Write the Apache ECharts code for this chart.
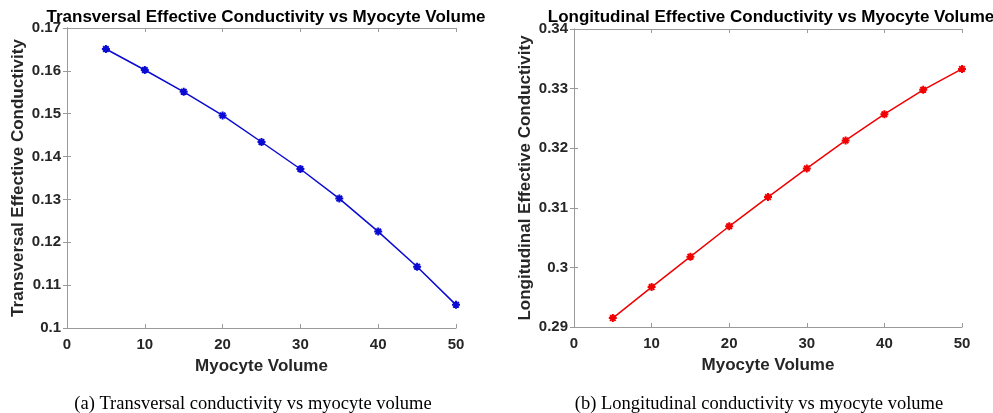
<!DOCTYPE html>
<html>
<head>
<meta charset="utf-8">
<script src="https://cdn.jsdelivr.net/npm/echarts@6/dist/echarts.min.js"></script>
<style>html,body{margin:0;padding:0;background:#fff;}#c{width:993px;height:413px;}</style>
</head>
<body>
<div id="c"></div>
<script>
const volume = [5, 10, 15, 20, 25, 30, 35, 40, 45, 50];
const transversal = [0.1651, 0.1602, 0.1551, 0.1496, 0.1434, 0.1371, 0.1302, 0.1225, 0.1143, 0.1054];
const longitudinal = [0.2915, 0.2967, 0.3018, 0.3069, 0.3118, 0.3166, 0.3213, 0.3257, 0.3298, 0.3333];
const titles = ['Transversal Effective Conductivity vs Myocyte Volume', 'Longitudinal Effective Conductivity vs Myocyte Volume'];
const yNames = ['Transversal Effective Conductivity', 'Longitudinal Effective Conductivity'];
const xName = 'Myocyte Volume';
const captions = ['(a) Transversal conductivity vs myocyte volume', '(b) Longitudinal conductivity vs myocyte volume'];

const chart = echarts.init(document.getElementById('c'));
const sans = 'Liberation Sans, Arial, Helvetica, sans-serif';
const serif = 'Liberation Serif, Times New Roman, serif';
const frame = '#9a9a9a';
const txt = '#262626';
const star = 'path://M5 0 L5 10 M0 5 L10 5 M1.5 1.5 L8.5 8.5 M8.5 1.5 L1.5 8.5';

const grids = [
  {left: 67, width: 389, top: 28, height: 300},
  {left: 574, width: 388, top: 29, height: 298}
];
const yRanges = [[0.1, 0.17], [0.29, 0.34]];

function xAxes(i) {
  return [
    {type: 'value', gridIndex: i, position: 'bottom', min: 0, max: 50, interval: 10,
     name: xName, nameLocation: 'middle', nameGap: 30,
     nameTextStyle: {fontFamily: sans, fontWeight: 'bold', fontSize: 17, color: txt},
     axisLine: {show: true, lineStyle: {color: frame, width: 1}},
     axisTick: {show: true, inside: true, length: 4, lineStyle: {color: frame}},
     axisLabel: {fontFamily: sans, fontWeight: 'bold', fontSize: 15, color: txt, margin: 9},
     splitLine: {show: false}},
    {type: 'value', gridIndex: i, position: 'top', min: 0, max: 50, interval: 10,
     axisLine: {show: true, lineStyle: {color: frame, width: 1}},
     axisTick: {show: true, inside: true, length: 4, lineStyle: {color: frame}},
     axisLabel: {show: false}, splitLine: {show: false}}
  ];
}
function yAxes(i) {
  return [
    {type: 'value', gridIndex: i, position: 'left', min: yRanges[i][0], max: yRanges[i][1], interval: 0.01,
     name: yNames[i], nameLocation: 'middle', nameGap: 40,
     nameTextStyle: {fontFamily: sans, fontWeight: 'bold', fontSize: 17, color: txt},
     axisLine: {show: true, lineStyle: {color: frame, width: 1}},
     axisTick: {show: true, inside: true, length: 4, lineStyle: {color: frame}},
     axisLabel: {fontFamily: sans, fontWeight: 'bold', fontSize: 15, color: txt, margin: 6,
       formatter: v => String(parseFloat(v.toFixed(4)))},
     splitLine: {show: false}},
    {type: 'value', gridIndex: i, position: 'right', min: yRanges[i][0], max: yRanges[i][1], interval: 0.01,
     axisLine: {show: true, lineStyle: {color: frame, width: 1}},
     axisTick: {show: true, inside: true, length: 4, lineStyle: {color: frame}},
     axisLabel: {show: false}, splitLine: {show: false}}
  ];
}

const colors = ['#0a0ad2', '#f00000'];
const datas = [transversal, longitudinal];

chart.setOption({
  animation: false,
  backgroundColor: '#fff',
  title: [
    {text: titles[0], left: 261, top: 4, textAlign: 'center',
     textStyle: {fontFamily: sans, fontWeight: 'bold', fontSize: 17, color: '#000'}},
    {text: titles[1], left: 766, top: 4, textAlign: 'center',
     textStyle: {fontFamily: sans, fontWeight: 'bold', fontSize: 17, color: '#000'}},
    {text: captions[0], left: 248, top: 390, textAlign: 'center',
     textStyle: {fontFamily: serif, fontWeight: 'normal', fontSize: 18.5, color: '#000'}},
    {text: captions[1], left: 754, top: 390, textAlign: 'center',
     textStyle: {fontFamily: serif, fontWeight: 'normal', fontSize: 18.5, color: '#000'}}
  ],
  grid: grids,
  xAxis: [...xAxes(0), ...xAxes(1)],
  yAxis: [...yAxes(0), ...yAxes(1)],
  series: [0, 1].map(i => ({
    type: 'line',
    xAxisIndex: i * 2,
    yAxisIndex: i * 2,
    data: volume.map((v, k) => [v, datas[i][k]]),
    symbol: star,
    symbolSize: 8,
    showAllSymbol: true,
    lineStyle: {color: colors[i], width: 1.5},
    itemStyle: {color: colors[i], borderColor: colors[i], borderWidth: 2}
  }))
});
</script>
</body>
</html>
